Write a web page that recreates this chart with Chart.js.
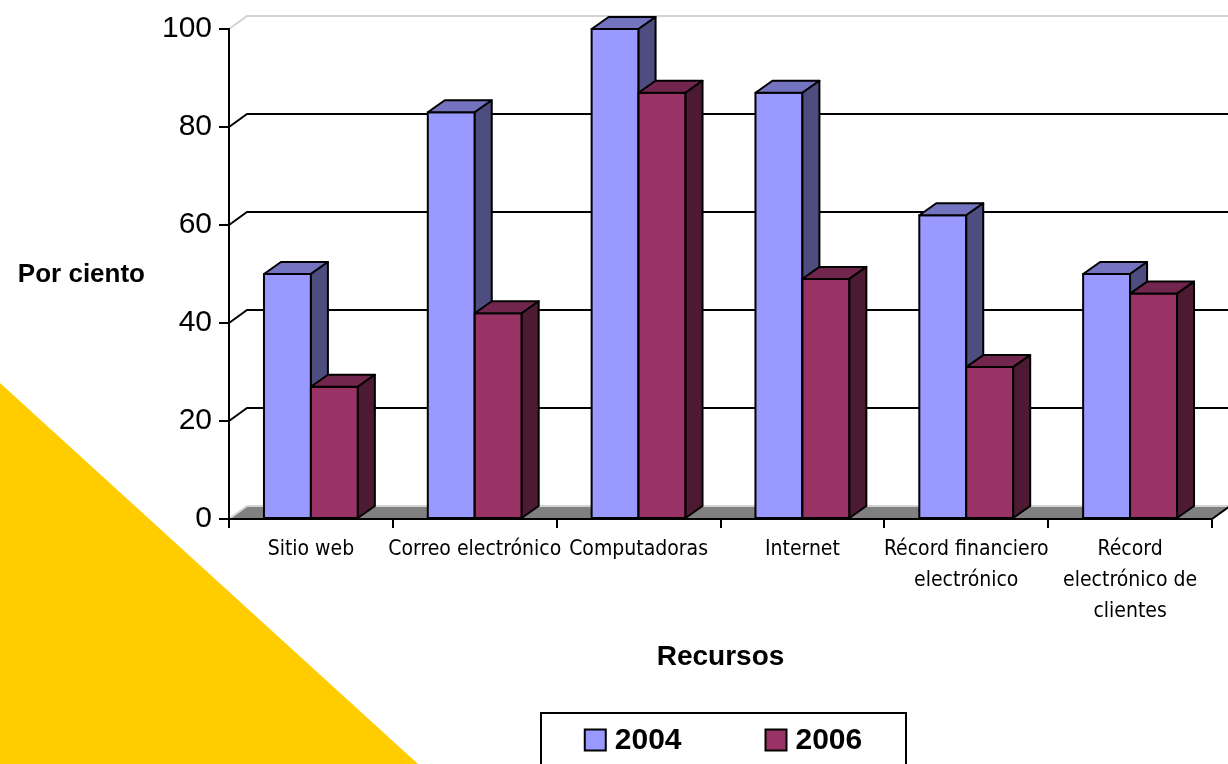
<!DOCTYPE html>
<html>
<head>
<meta charset="utf-8">
<script src="https://cdn.jsdelivr.net/npm/chart.js@4"></script>
<style>
  html, body { margin: 0; padding: 0; background: #fff; }
  canvas { display: block; }
</style>
</head>
<body>
<canvas id="chart" width="1228" height="764"></canvas>
<script>
const categories = [
  "Sitio web",
  "Correo electrónico",
  "Computadoras",
  "Internet",
  ["Récord financiero", "electrónico"],
  ["Récord", "electrónico de", "clientes"],
];
const values2004 = [50, 83, 100, 87, 62, 50];
const values2006 = [27, 42, 87, 49, 31, 46];
const seriesNames = ["2004", "2006"];
const yTitle = "Por ciento";
const xTitle = "Recursos";

const sans = "'Liberation Sans', Arial, sans-serif";
const narrow = "'Liberation Sans Narrow', 'Arial Narrow', 'DejaVu Sans Condensed', sans-serif";

// front / top / side colours of each series
const frontColors = ["#9999ff", "#993366"];
const topColors = ["#7373bf", "#73264d"];
const sideColors = ["#4d4d80", "#4d1a33"];

// depth of the 3d effect
const DX = 17, DY = -12;
const WX = 18, WY = -13;

function poly(ctx, pts, fill) {
  ctx.beginPath();
  ctx.moveTo(pts[0][0], pts[0][1]);
  for (let k = 1; k < pts.length; k++) ctx.lineTo(pts[k][0], pts[k][1]);
  ctx.closePath();
  ctx.fillStyle = fill;
  ctx.fill();
  ctx.stroke();
}

const scene = {
  id: "scene",
  beforeDraw(chart) {
    const { ctx, chartArea: a, scales: { y } } = chart;
    ctx.save();
    // yellow corner of the slide
    ctx.fillStyle = "#ffcc00";
    ctx.beginPath();
    ctx.moveTo(0, 383);
    ctx.lineTo(418, 764);
    ctx.lineTo(0, 764);
    ctx.closePath();
    ctx.fill();

    // floor
    ctx.fillStyle = "#808080";
    ctx.beginPath();
    ctx.moveTo(a.left, a.bottom);
    ctx.lineTo(a.right, a.bottom);
    ctx.lineTo(a.right + WX, a.bottom + WY);
    ctx.lineTo(a.left + WX, a.bottom + WY);
    ctx.closePath();
    ctx.fill();

    // wall outline
    ctx.lineWidth = 2;
    ctx.strokeStyle = "#d4d4d4";
    ctx.beginPath();
    ctx.moveTo(a.left, a.top);
    ctx.lineTo(a.left + WX, a.top + WY);
    ctx.lineTo(a.right + WX, a.top + WY);
    ctx.moveTo(a.left, a.bottom);
    ctx.lineTo(a.left + WX, a.bottom + WY);
    ctx.lineTo(a.right + WX, a.bottom + WY);
    ctx.stroke();

    ctx.strokeStyle = "#000";
    ctx.beginPath();
    ctx.moveTo(a.right, a.bottom);
    ctx.lineTo(a.right + WX, a.bottom + WY);
    ctx.stroke();

    // gridlines on the back wall
    y.ticks.forEach((t) => {
      if (t.value <= y.min || t.value >= y.max) return;
      const py = y.getPixelForValue(t.value);
      ctx.beginPath();
      ctx.moveTo(a.left, py);
      ctx.lineTo(a.left + WX, py + WY);
      ctx.lineTo(a.right + WX, py + WY);
      ctx.stroke();
    });
    ctx.restore();
  },
  afterDatasetsDraw(chart) {
    // redraw every bar as a box, left to right, 2004 before 2006
    const ctx = chart.ctx;
    const metas = [chart.getDatasetMeta(0), chart.getDatasetMeta(1)];
    ctx.save();
    ctx.lineWidth = 2;
    ctx.strokeStyle = "#000";
    ctx.lineJoin = "round";
    categories.forEach((c, j) => {
      metas.forEach((meta, i) => {
        const bar = meta.data[j];
        const l = bar.x - bar.width / 2, r = bar.x + bar.width / 2;
        const t = bar.y, b = bar.base;
        poly(ctx, [[l, t], [r, t], [r, b], [l, b]], frontColors[i]);
        poly(ctx, [[l, t], [l + DX, t + DY], [r + DX, t + DY], [r, t]], topColors[i]);
        poly(ctx, [[r, t], [r + DX, t + DY], [r + DX, b + DY], [r, b]], sideColors[i]);
      });
    });
    ctx.restore();
  },
  afterDraw(chart) {
    const { ctx, chartArea: a } = chart;
    ctx.save();
    ctx.fillStyle = "#000";
    ctx.font = "bold 26px " + sans;
    ctx.textAlign = "right";
    ctx.textBaseline = "middle";
    ctx.fillText(yTitle, 145, 275);

    // legend box
    ctx.font = "bold 30px " + sans;
    ctx.textAlign = "left";
    const sq = 21, gap = 9, between = 84;
    const widths = seriesNames.map((s) => sq + gap + ctx.measureText(s).width);
    const total = widths[0] + between + widths[1];
    const cx = (a.left + a.right) / 2 + 3;
    const boxW = 365, boxTop = 713, midY = 740;
    ctx.lineWidth = 2;
    ctx.strokeStyle = "#000";
    ctx.strokeRect(cx - boxW / 2, boxTop, boxW, 100);
    let x = cx - total / 2;
    seriesNames.forEach((s, k) => {
      ctx.fillStyle = frontColors[k];
      ctx.fillRect(x, midY - sq / 2, sq, sq);
      ctx.strokeRect(x, midY - sq / 2, sq, sq);
      ctx.fillStyle = "#000";
      ctx.fillText(s, x + sq + gap, midY + 1);
      x += widths[k] + between;
    });
    ctx.restore();
  },
};

new Chart(document.getElementById("chart"), {
  type: "bar",
  data: {
    labels: categories,
    datasets: [
      {
        label: seriesNames[0],
        data: values2004,
        backgroundColor: frontColors[0],
        borderWidth: 0,
        barPercentage: 1,
        categoryPercentage: 94 / 164,
      },
      {
        label: seriesNames[1],
        data: values2006,
        backgroundColor: frontColors[1],
        borderWidth: 0,
        barPercentage: 1,
        categoryPercentage: 94 / 164,
      },
    ],
  },
  options: {
    responsive: false,
    animation: false,
    layout: { padding: { top: 29, right: 16, bottom: 90, left: 0 } },
    plugins: { legend: { display: false }, tooltip: { enabled: false } },
    scales: {
      x: {
        grid: { offset: true, drawOnChartArea: false, color: "#000", lineWidth: 2, tickLength: 9 },
        border: { color: "#000", width: 2 },
        ticks: {
          color: "#000",
          font: { family: narrow, size: 21, lineHeight: 1.48 },
          padding: 6,
          maxRotation: 0,
          autoSkip: false,
        },
        title: {
          display: true,
          text: xTitle,
          color: "#000",
          font: { family: sans, size: 28, weight: "bold" },
          padding: 0,
        },
        afterFit: (s) => { s.height = 155; },
      },
      y: {
        min: 0,
        max: 100,
        ticks: { stepSize: 20, color: "#000", font: { family: sans, size: 30 }, padding: 7 },
        grid: { drawOnChartArea: false, color: "#000", lineWidth: 2, tickLength: 10 },
        border: { color: "#000", width: 2 },
        afterFit: (s) => { s.width = 229; },
      },
    },
  },
  plugins: [scene],
});
</script>
</body>
</html>
